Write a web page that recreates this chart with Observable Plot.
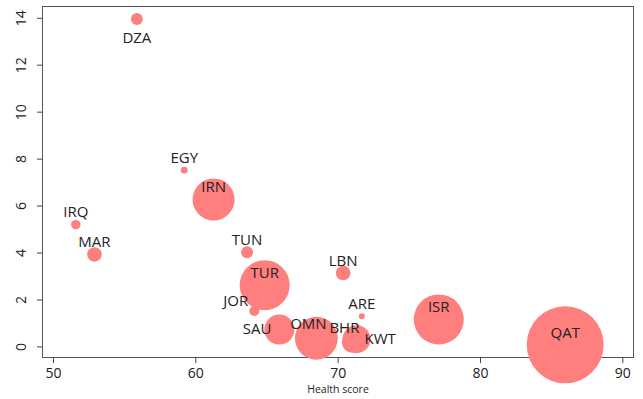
<!DOCTYPE html>
<html>
<head>
<meta charset="utf-8">
<script src="https://cdn.jsdelivr.net/npm/d3@7"></script>
<script src="https://cdn.jsdelivr.net/npm/@observablehq/plot@0.6"></script>
<style>
  html, body { margin: 0; padding: 0; background: #fff; }
  #chart svg { display: block; }
</style>
</head>
<body>
<div id="chart"></div>
<script>
// Country codes
const countries = ["DZA","EGY","IRN","IRQ","MAR","TUN","TUR","JOR","LBN","ARE","SAU","OMN","BHR","KWT","ISR","QAT"];
// Health score (x)
const healthScore = [55.86, 59.19, 61.25, 51.57, 52.88, 63.60, 64.84, 64.11, 70.35, 71.66, 65.87, 68.47, 71.00, 71.29, 77.07, 85.95];
// Vertical value (y)
const yValue = [13.97, 7.53, 6.28, 5.21, 3.94, 4.03, 2.63, 1.53, 3.15, 1.31, 0.74, 0.37, 0.20, 0.33, 1.17, 0.09];
// Bubble weight (relative, QAT = 100)
const weight = [2.4, 0.8, 29.8, 1.5, 3.6, 2.4, 42.2, 1.7, 3.6, 0.6, 15.2, 31.0, 7.5, 13.2, 42.2, 100];
// Marker label clock position
const labelPos = [6, 12, 12, 12, 12, 12, 12, 10, 12, 12, 9, 11, 11, 3, 12, 12];
// Axis ticks
const xTicks = [50, 60, 70, 80, 90];
const yTicks = [0, 2, 4, 6, 8, 10, 12, 14];
const xLabel = "Health score";

const xDomain = [49.23, 90.75];
const yDomain = [-0.45, 14.5];

const data = countries.map((c, i) => ({
  code: c, x: healthScore[i], y: yValue[i], w: weight[i], pos: labelPos[i]
}));

const clock = {
  12: {dx: 0, dy: -12, textAnchor: "middle"},
  6:  {dx: 0, dy: 19, textAnchor: "middle"},
  11: {dx: -8, dy: -14, textAnchor: "middle"},
  10: {dx: -6, dy: -10, textAnchor: "end"},
  9:  {dx: -8, dy: 0, textAnchor: "end"},
  3:  {dx: 8, dy: 0, textAnchor: "start"}
};

const labelMarks = Object.keys(clock).map(k => Plot.text(data.filter(d => d.pos === +k), {
  x: "x", y: "y", text: "code",
  dx: clock[k].dx, dy: clock[k].dy, textAnchor: clock[k].textAnchor,
  fontSize: 15, fill: "#222", lineAnchor: "middle"
}));

const chart = Plot.plot({
  width: 643,
  height: 399,
  marginLeft: 42,
  marginRight: 10,
  marginTop: 6,
  marginBottom: 42,
  style: {fontFamily: "'Open Sans', 'Noto Sans', sans-serif", background: "#fff", color: "#222"},
  x: {domain: xDomain},
  y: {domain: yDomain},
  r: {type: "sqrt", domain: [0, 100], range: [0, 38.5]},
  marks: [
    Plot.frame({stroke: "#555", strokeWidth: 1}),
    Plot.axisX({ticks: xTicks, tickSize: 6, tickPadding: 5, tickFormat: d => String(d), fontSize: 14, stroke: "#444", fill: "#222", label: null}),
    Plot.axisY({ticks: yTicks, tickSize: 5, tickFormat: () => "", stroke: "#444", label: null}),
    Plot.text(yTicks, {y: d => d, text: d => String(d), frameAnchor: "left", dx: -21, rotate: -90, fontSize: 14, fill: "#222", textAnchor: "middle", lineAnchor: "middle"}),
    Plot.dot(data, {x: "x", y: "y", r: "w", fill: "#ff7f7f", stroke: "none"}),
    ...labelMarks,
    Plot.text([xLabel], {text: d => d, frameAnchor: "bottom", dy: 35, fontSize: 10.5, fill: "#222"})
  ]
});

document.getElementById("chart").appendChild(chart);
</script>
</body>
</html>
